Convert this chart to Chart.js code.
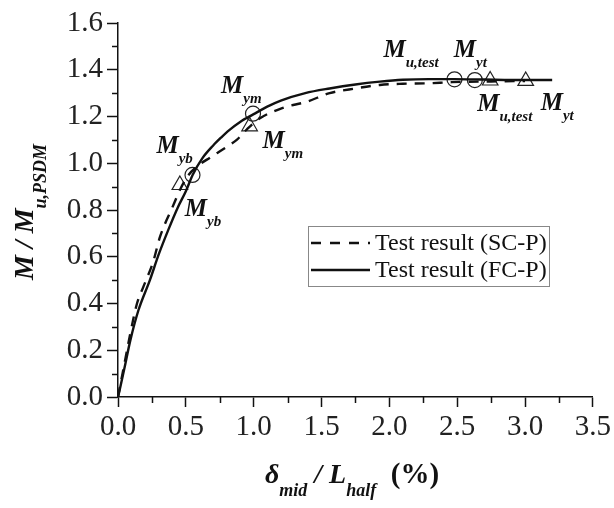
<!DOCTYPE html>
<html lang="en">
<head>
<meta charset="UTF-8">
<title>Moment vs mid-span drift</title>
<script src="https://cdn.jsdelivr.net/npm/chart.js"></script>
<style>
    body { margin: 0; background: #fff; }
    canvas { display: block; }
</style>
</head>
<body>
<canvas id="chart" width="614" height="508"></canvas>
<script>
// FC-P test curve (solid line)
const fcX = [0, 0.02, 0.05, 0.09, 0.15, 0.235, 0.30, 0.37, 0.44, 0.50, 0.55, 0.62, 0.70, 0.76, 0.82, 0.90, 1.00, 1.10, 1.20, 1.38, 1.56, 1.75, 1.93, 2.10, 2.29, 2.48, 2.70, 3.00, 3.20];
const fcY = [0, 0.05, 0.13, 0.24, 0.37, 0.50, 0.61, 0.714, 0.81, 0.88, 0.95, 1.02, 1.075, 1.11, 1.142, 1.177, 1.21, 1.242, 1.268, 1.30, 1.32, 1.337, 1.349, 1.357, 1.36, 1.36, 1.358, 1.356, 1.356];

// SC-P test curve (dashed line)
const scX = [0, 0.02, 0.05, 0.09, 0.14, 0.186, 0.26, 0.31, 0.40, 0.46, 0.52, 0.58, 0.68, 0.80, 0.875, 0.95, 1.04, 1.21, 1.39, 1.56, 1.75, 1.93, 2.10, 2.29, 2.46, 2.75, 3.00];
const scY = [0, 0.06, 0.15, 0.27, 0.40, 0.47, 0.58, 0.686, 0.81, 0.89, 0.95, 0.985, 1.025, 1.07, 1.10, 1.145, 1.19, 1.236, 1.263, 1.30, 1.32, 1.335, 1.34, 1.342, 1.347, 1.35, 1.352];

// characteristic points (circle = FC-P, triangle = SC-P)
const pointNames = ['yb', 'ym', 'u,test', 'yt'];
const fcPtX = [0.549, 0.995, 2.48, 2.63];
const fcPtY = [0.95, 1.212, 1.359, 1.356];
const scPtX = [0.456, 0.97, 2.743, 3.005];
const scPtY = [0.907, 1.158, 1.354, 1.352];

const seriesNames = ['Test result (SC-P)', 'Test result (FC-P)'];

const toPts = (xs, ys) => xs.map((x, i) => ({x: x, y: ys[i]}));

const SERIF = '"Liberation Serif", "Times New Roman", serif';
const INK = '#111';

// label offsets (px) of the "M" relative to each marker
const fcLabelOff = [[-36, -22], [-32, -21], [-71, -22], [-21, -23]];
const scLabelOff = [[5, 31], [13, 22], [-13, 30], [15, 29]];

function drawPieces(ctx, pieces, x, y) {
    pieces.forEach(p => {
        ctx.font = p.font;
        ctx.fillText(p.text, x, y + (p.drop || 0));
        x += ctx.measureText(p.text).width;
    });
}
function piecesWidth(ctx, pieces) {
    let w = 0;
    pieces.forEach(p => { ctx.font = p.font; w += ctx.measureText(p.text).width; });
    return w;
}

const decorations = {
    id: 'decorations',
    afterDraw(chart) {
        const ctx = chart.ctx;
        const xs = chart.scales.x, ys = chart.scales.y;
        const area = chart.chartArea;
        ctx.save();
        ctx.strokeStyle = INK;
        ctx.lineWidth = 1.5;

        // minor ticks
        ctx.beginPath();
        for (let v = 0.1; v < 1.6; v += 0.2) {
            const py = Math.round(ys.getPixelForValue(v)) + 0.5;
            ctx.moveTo(area.left, py);
            ctx.lineTo(area.left - 6, py);
        }
        for (let v = 0.25; v < 3.5; v += 0.5) {
            const px = Math.round(xs.getPixelForValue(v)) + 0.5;
            ctx.moveTo(px, area.bottom);
            ctx.lineTo(px, area.bottom + 6);
        }
        ctx.stroke();

        ctx.fillStyle = INK;
        ctx.textBaseline = 'alphabetic';
        ctx.textAlign = 'left';

        // point annotations
        const mFont = 'bold italic 25px ' + SERIF;
        const sFont = 'bold italic 15px ' + SERIF;
        const annotate = (px, py, off, sub) => {
            drawPieces(ctx, [
                {text: 'M', font: mFont},
                {text: sub, font: sFont, drop: 10}
            ], px + off[0], py + off[1]);
        };
        pointNames.forEach((name, i) => {
            annotate(xs.getPixelForValue(fcPtX[i]), ys.getPixelForValue(fcPtY[i]), fcLabelOff[i], name);
            annotate(xs.getPixelForValue(scPtX[i]), ys.getPixelForValue(scPtY[i]), scLabelOff[i], name);
        });

        // x axis title
        const tMain = 'bold italic 28px ' + SERIF;
        const tSub = 'bold italic 18px ' + SERIF;
        const xTitle = [
            {text: '\u03B4', font: tMain},
            {text: 'mid', font: tSub, drop: 13},
            {text: ' / ', font: tMain},
            {text: 'L', font: tMain},
            {text: 'half', font: tSub, drop: 13},
            {text: '  (%)', font: 'bold 29px ' + SERIF}
        ];
        const xw = piecesWidth(ctx, xTitle);
        drawPieces(ctx, xTitle, 265 - 0 * xw, 483);

        // y axis title (rotated)
        const yTitle = [
            {text: 'M / M', font: tMain},
            {text: 'u,PSDM', font: tSub, drop: 13}
        ];
        const yw = piecesWidth(ctx, yTitle);
        ctx.translate(33, 212 + yw / 2);
        ctx.rotate(-Math.PI / 2);
        drawPieces(ctx, yTitle, 0, 0);
        ctx.setTransform(1, 0, 0, 1, 0, 0);

        // legend
        const lx = 308, ly = 226, lw = 241, lh = 60;
        ctx.fillStyle = '#fff';
        ctx.fillRect(lx, ly, lw, lh);
        ctx.strokeStyle = '#888';
        ctx.lineWidth = 1;
        ctx.strokeRect(lx + 0.5, ly + 0.5, lw, lh);
        [[10, 9], []].forEach((dash, i) => {
            const cy = ly + 17 + i * 27;
            ctx.strokeStyle = INK;
            ctx.lineWidth = 2.4;
            ctx.setLineDash(dash);
            ctx.beginPath();
            ctx.moveTo(lx + 3, cy);
            ctx.lineTo(lx + 62, cy);
            ctx.stroke();
            ctx.setLineDash([]);
            ctx.fillStyle = INK;
            ctx.font = '24px ' + SERIF;
            ctx.textBaseline = 'middle';
            ctx.fillText(seriesNames[i], lx + 67, cy + 1);
        });
        ctx.restore();
    }
};

const lineStyle = {
    showLine: true,
    borderColor: INK,
    borderWidth: 2.4,
    pointRadius: 0,
    fill: false,
    cubicInterpolationMode: 'monotone'
};
const markStyle = {
    showLine: false,
    borderColor: '#222',
    backgroundColor: 'rgba(0,0,0,0)',
    borderWidth: 1.2
};

new Chart(document.getElementById('chart'), {
    type: 'scatter',
    data: {
        datasets: [
            Object.assign({label: seriesNames[0], data: toPts(scX, scY), borderDash: [10, 8]}, lineStyle),
            Object.assign({label: seriesNames[1], data: toPts(fcX, fcY)}, lineStyle),
            Object.assign({label: 'SC-P points', data: toPts(scPtX, scPtY), pointStyle: 'triangle', pointRadius: 9}, markStyle),
            Object.assign({label: 'FC-P points', data: toPts(fcPtX, fcPtY), pointStyle: 'circle', pointRadius: 7.5}, markStyle)
        ]
    },
    options: {
        responsive: false,
        animation: false,
        layout: { padding: { top: 23, right: 20, left: 0, bottom: 0 } },
        plugins: {
            legend: { display: false },
            tooltip: { enabled: false }
        },
        scales: {
            x: {
                type: 'linear',
                min: 0,
                max: 3.5,
                afterFit: s => { s.height = 111; },
                ticks: {
                    stepSize: 0.5,
                    maxRotation: 0,
                    padding: 3,
                    color: '#222',
                    font: { family: SERIF, size: 29 },
                    callback: v => v.toFixed(1)
                },
                grid: { drawOnChartArea: false, tickLength: 10, tickWidth: 1.5, tickColor: INK },
                border: { color: INK, width: 1.5 }
            },
            y: {
                min: 0,
                max: 1.6,
                afterFit: s => { s.width = 118; },
                ticks: {
                    stepSize: 0.2,
                    padding: 4,
                    color: '#222',
                    font: { family: SERIF, size: 29 },
                    callback: v => v.toFixed(1)
                },
                grid: { drawOnChartArea: false, tickLength: 11, tickWidth: 1.5, tickColor: INK },
                border: { color: INK, width: 1.5 }
            }
        }
    },
    plugins: [decorations]
});
</script>
</body>
</html>
